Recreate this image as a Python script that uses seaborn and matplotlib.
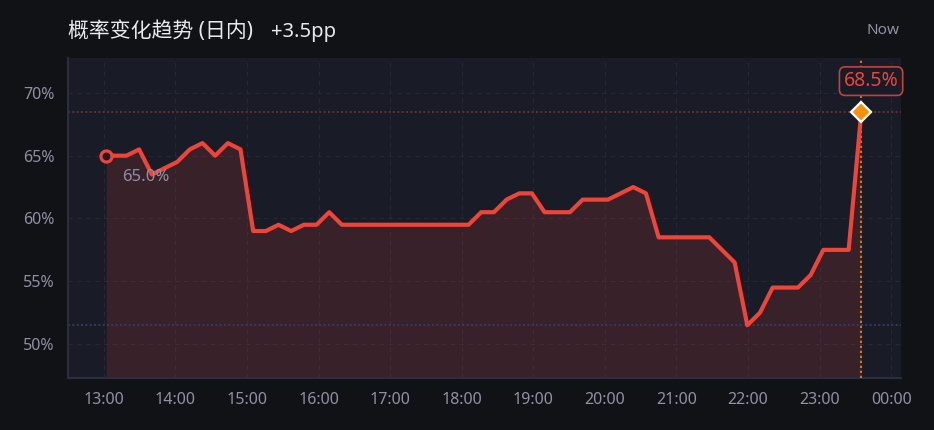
import matplotlib
matplotlib.use("Agg")
import matplotlib.pyplot as plt
import matplotlib.dates as mdates
import seaborn as sns
import pandas as pd
import numpy as np

# ---------------- data ----------------
start_time = "2024-01-01 13:02"
sample_first = "2024-01-01 13:19"
now_time = "2024-01-01 23:35"
n_samples = 59

start_value = 65.0
sample_values = [
    65.0, 65.5, 63.5, 64.0, 64.5, 65.5, 66.0, 65.0, 66.0, 65.5,
    59.0, 59.0, 59.5, 59.0, 59.5, 59.5, 60.5, 59.5, 59.5, 59.5,
    59.5, 59.5, 59.5, 59.5, 59.5, 59.5, 59.5, 59.5, 60.5, 60.5,
    61.5, 62.0, 62.0, 60.5, 60.5, 60.5, 61.5, 61.5, 61.5, 62.0,
    62.5, 62.0, 58.5, 58.5, 58.5, 58.5, 58.5, 57.5, 56.5, 51.5,
    52.5, 54.5, 54.5, 54.5, 55.5, 57.5, 57.5, 57.5, 68.5,
]
y_ticks = [50, 55, 60, 65, 70]
title_text = "概率变化趋势 (日内)"
change_text = "+3.5pp"
now_label = "Now"

times = pd.DatetimeIndex([pd.Timestamp(start_time)]).append(
    pd.date_range(sample_first, now_time, periods=n_samples))
values = [start_value] + sample_values
df = pd.DataFrame({"time": times, "prob": values})

x_min = pd.Timestamp("2024-01-01 12:30")
x_max = pd.Timestamp("2024-01-02 00:08")
y_min, y_max = 47.3, 72.8

# ---------------- style ----------------
BG = "#111216"
PLOT_BG = "#191b26"
RED = "#ef4438"
ORANGE = "#f5920b"
GRAY = "#8e91a4"
GRID = "#252837"

sns.set_theme(style="dark")
plt.rcParams["font.family"] = ["Noto Sans", "Noto Sans CJK SC", "DejaVu Sans"]

fig = plt.figure(figsize=(9.34, 4.30), dpi=100, facecolor=BG)
ax = fig.add_axes([68 / 934, 1 - 378 / 430, (900.7 - 68) / 934, (378 - 57.7) / 430])
ax.set_facecolor(PLOT_BG)

# fill under the line
ax.fill_between(df["time"], df["prob"], y_min, color=RED, alpha=0.15, lw=0, zorder=1)

sns.lineplot(data=df, x="time", y="prob", ax=ax, color=RED, lw=3, zorder=4)

# reference lines
dots = (0, (1.1, 1.3))
ax.axhline(max(values), color="#6e2f33", ls=dots, lw=1.3, zorder=2)
ax.axhline(min(values), color="#323c6a", ls=dots, lw=1.3, zorder=2)
ax.axvline(df["time"].iloc[-1], color="#c97a12", ls=dots, lw=1.5, zorder=3)

# markers
ax.plot(df["time"].iloc[0], df["prob"].iloc[0], "o", ms=8, mfc=PLOT_BG, mec=RED, mew=2.3, zorder=6)
ax.plot(df["time"].iloc[-1], df["prob"].iloc[-1], "D", ms=10, mfc=ORANGE, mec="white", mew=1.6, zorder=7)

ax.annotate(f"{values[0]:.1f}%", (df["time"].iloc[0], values[0]), xytext=(11.5, -15.5),
            textcoords="offset points", ha="left", va="center", color=GRAY, fontsize=12, zorder=8)
ax.annotate(f"{values[-1]:.1f}%", (df["time"].iloc[-1], values[-1]), xytext=(7, 22),
            textcoords="offset points", ha="center", va="center", color=RED, fontsize=14,
            bbox=dict(boxstyle="round,pad=0.22,rounding_size=0.3", fc=PLOT_BG, ec="#c0443a", lw=1.2),
            zorder=8, annotation_clip=False)

# axes
ax.set_xlim(x_min, x_max)
ax.set_ylim(y_min, y_max)
ax.set_yticks(y_ticks)
ax.set_yticklabels([f"{t}%" for t in y_ticks])
ax.xaxis.set_major_locator(mdates.HourLocator())
ax.xaxis.set_major_formatter(mdates.DateFormatter("%H:%M"))
ax.set_xlabel("")
ax.set_ylabel("")
ax.tick_params(axis="both", length=0, colors=GRAY, labelsize=11.5)
ax.tick_params(axis="y", pad=9.5)
ax.tick_params(axis="x", pad=10)
ax.grid(True, color=GRID, ls=(0, (4, 4)), lw=0.8)
for s in ["top", "right"]:
    ax.spines[s].set_visible(False)
for s in ["left", "bottom"]:
    ax.spines[s].set_visible(True)
    ax.spines[s].set_color("#2b2e3d")
    ax.spines[s].set_linewidth(1.5)

fig.text(68 / 934, 1 - 32 / 430, title_text, ha="left", va="center", fontsize=15, color="#e8e9ec")
fig.text(271 / 934, 1 - 32 / 430, change_text, ha="left", va="center", fontsize=14.5, color="#e8e9ec")
fig.text(883 / 934, 1 - 30 / 430, now_label, ha="center", va="center", fontsize=11, color=GRAY)

fig.savefig("out.png", dpi=100, facecolor=BG)
